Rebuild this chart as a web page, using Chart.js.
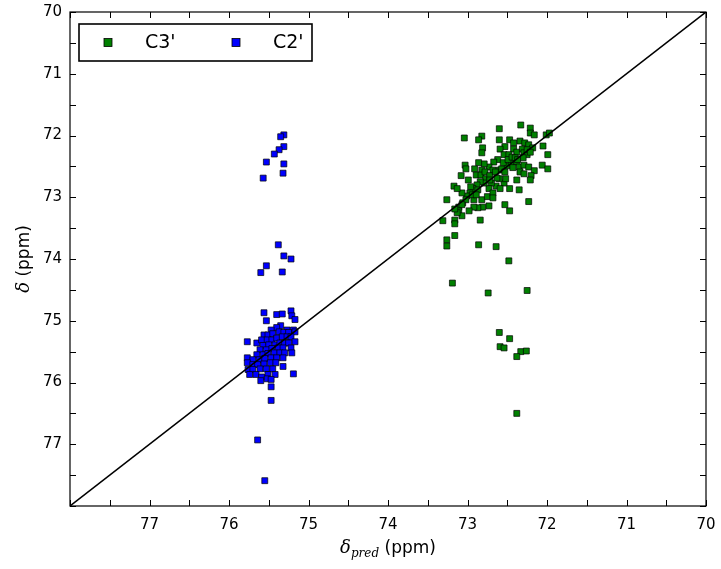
<!DOCTYPE html>
<html>
<head>
<meta charset="utf-8">
<script src="https://cdn.jsdelivr.net/npm/chart.js@4.4.0/dist/chart.umd.min.js"></script>
<style>
html,body{margin:0;padding:0;background:#fff;}
</style>
</head>
<body>
<canvas id="nmrChart" width="721" height="569"></canvas>
<script>
// axis limits (ppm) and labelled ticks
const axisRange = [70, 78];
const tickLabels = ['70','71','72','73','74','75','76','77'];
const diagLine = [78, 70];

const seriesNames = ["C3'", "C2'"];
const seriesColors = ['#008000', '#0000ff'];

// C3' : predicted shift (x) vs observed shift (y)
const c3X = [72.48,73.19,72.74,72.25,72.60,72.47,72.59,72.54,72.33,72.26,72.38,72.38,
72.60,73.04,72.33,72.21,72.21,72.16,72.82,72.86,72.60,72.47,72.42,72.34,72.28,72.01,71.97,72.53,72.59,72.81,
72.82,72.23,72.18,72.05,71.99,72.42,72.38,72.31,72.29,72.54,72.48,72.25,72.62,72.67,72.73,72.79,72.86,73.03,
73.02,72.91,72.82,72.89,73.08,72.99,72.83,72.77,72.68,72.60,72.57,72.50,72.45,72.38,72.35,72.29,72.34,72.29,
72.23,72.06,71.99,72.16,72.20,72.21,72.38,72.47,72.54,72.52,72.60,72.64,72.70,72.73,72.79,72.84,72.88,72.93,
72.96,72.97,73.01,73.07,73.17,73.13,72.92,72.82,72.75,72.68,72.68,72.59,72.35,72.23,72.53,72.47,72.73,72.81,
72.87,72.92,72.98,73.06,73.11,73.11,73.07,73.13,73.16,73.26,73.31,73.16,73.16,72.84,73.26,73.26,73.16,72.86,72.64,
72.78,72.72,72.65,72.55,72.49,72.44,72.40,72.30,72.25,72.21,72.37,72.43,72.53,72.63,72.72,72.87,72.94,73.02,73.07,72.89];
const c3Y = [74.03,74.39,74.55,74.51,75.19,75.29,75.42,75.44,75.50,75.49,75.58,76.50,
71.89,72.04,71.83,71.88,71.96,71.99,72.01,72.07,72.07,72.07,72.12,72.09,72.12,71.99,71.96,72.18,72.22,72.20,
72.28,72.15,72.20,72.17,72.31,72.22,72.27,72.22,72.28,72.31,72.31,72.31,72.39,72.43,72.51,72.46,72.44,72.48,
72.54,72.54,72.56,72.64,72.65,72.72,72.64,72.70,72.56,72.56,72.54,72.49,72.44,72.43,72.51,72.48,72.59,72.62,
72.51,72.48,72.54,72.57,72.65,72.72,72.72,72.86,72.77,72.70,72.70,72.82,72.77,72.86,72.77,72.75,72.80,72.86,
72.83,72.93,72.98,72.93,72.82,72.86,73.04,73.04,72.99,72.93,73.01,72.86,72.88,73.07,73.12,73.22,73.14,73.16,
73.17,73.16,73.22,73.09,73.16,73.22,73.30,73.25,73.19,73.04,73.38,73.37,73.43,73.37,73.69,73.79,73.62,73.77,73.80,
72.59,72.65,72.59,72.44,72.39,72.35,72.36,72.36,72.23,72.27,72.39,72.52,72.59,72.69,72.72,72.88,72.96,73.04,73.12,72.96];

// C2'
const c2X = [75.31,75.35,75.31,75.37,75.43,75.53,75.31,75.32,75.57,75.38,75.31,75.22,75.53,75.60,75.33,
75.56,75.40,75.33,75.22,75.21,75.53,75.17,75.35,75.40,75.47,75.27,75.19,75.56,75.51,75.45,75.37,75.31,75.25,75.17,
75.77,75.65,75.59,75.52,75.46,75.40,75.33,75.27,75.22,75.17,75.57,75.50,75.42,75.36,75.30,75.25,
75.61,75.53,75.46,75.38,75.32,75.22,75.65,75.57,75.51,75.43,75.36,75.30,75.21,
75.77,75.70,75.62,75.55,75.47,75.40,75.32,75.77,75.70,75.64,75.56,75.48,75.41,75.32,
75.76,75.70,75.61,75.53,75.45,75.74,75.66,75.59,75.51,75.42,75.19,75.60,75.52,75.47,75.47,75.47,75.64,75.55];
const c2Y = [71.99,72.02,72.18,72.23,72.30,72.43,72.46,72.61,72.69,73.77,73.95,74.00,74.11,74.22,74.21,
74.87,74.90,74.89,74.84,74.92,75.00,74.98,75.08,75.11,75.15,75.15,75.15,75.23,75.23,75.21,75.18,75.19,75.19,75.18,
75.34,75.36,75.31,75.31,75.31,75.28,75.26,75.26,75.26,75.34,75.40,75.39,75.39,75.36,75.36,75.36,
75.47,75.47,75.45,75.44,75.44,75.44,75.55,75.55,75.53,75.52,75.52,75.52,75.52,
75.60,75.63,75.63,75.61,75.60,75.60,75.60,75.68,75.71,75.71,75.70,75.68,75.68,75.74,
75.79,75.79,75.78,75.78,75.78,75.87,75.87,75.91,75.87,75.87,75.86,75.97,75.94,75.95,76.07,76.29,76.93,77.59];

const toPts = (xs, ys) => xs.map((v, i) => ({x: v, y: ys[i]}));

const tickFont = {family: 'DejaVu Sans', size: 15};

// matplotlib-classic look: box frame, inward ticks on every side, legend box, math-ish labels
const framePlugin = {
  id: 'frame',
  afterDatasetsDraw(chart){
    const {ctx, chartArea: a, scales: {x, y}} = chart;
    ctx.save();
    ctx.strokeStyle = '#000';
    ctx.lineWidth = 1;
    ctx.beginPath();
    x.ticks.forEach(t => {
      const px = Math.round(x.getPixelForValue(t.value)) + 0.5;
      ctx.moveTo(px, a.bottom); ctx.lineTo(px, a.bottom - 6);
      ctx.moveTo(px, a.top); ctx.lineTo(px, a.top + 6);
    });
    y.ticks.forEach(t => {
      const py = Math.round(y.getPixelForValue(t.value)) + 0.5;
      ctx.moveTo(a.left, py); ctx.lineTo(a.left + 6, py);
      ctx.moveTo(a.right, py); ctx.lineTo(a.right - 6, py);
    });
    ctx.stroke();
    ctx.lineWidth = 1.2;
    ctx.strokeRect(a.left, a.top, a.right - a.left, a.bottom - a.top);

    // legend
    const lx = a.left + 9, ly = a.top + 12, lw = 233, lh = 37;
    ctx.fillStyle = '#fff';
    ctx.fillRect(lx, ly, lw, lh);
    ctx.lineWidth = 1.6;
    ctx.strokeRect(lx, ly, lw, lh);
    ctx.font = '19px "DejaVu Sans"';
    ctx.textBaseline = 'middle';
    const cy = ly + lh / 2;
    seriesNames.forEach((name, i) => {
      const mx = lx + 29 + i * 128;
      ctx.fillStyle = seriesColors[i];
      ctx.fillRect(mx - 4, cy - 4, 8, 8);
      ctx.lineWidth = 0.8;
      ctx.strokeRect(mx - 4, cy - 4, 8, 8);
      ctx.fillStyle = '#000';
      ctx.fillText(name, mx + 37, cy + 1);
    });
    ctx.restore();
  },
  afterDraw(chart){
    const {ctx, chartArea: a} = chart;
    const parts = (withSub) => {
      const p = [{t: 'δ', f: 'italic 18px "DejaVu Serif"', dy: 0}];
      if (withSub) p.push({t: 'pred', f: 'italic 12px "DejaVu Serif"', dy: 4});
      p.push({t: ' (ppm)', f: '17px "DejaVu Sans"', dy: 0});
      return p;
    };
    const drawLabel = (p) => {
      let w = 0;
      p.forEach(s => { ctx.font = s.f; s.w = ctx.measureText(s.t).width; w += s.w; });
      let cx = -w / 2;
      p.forEach(s => { ctx.font = s.f; ctx.fillText(s.t, cx, s.dy); cx += s.w; });
    };
    ctx.save();
    ctx.fillStyle = '#000';
    ctx.textBaseline = 'alphabetic';
    ctx.translate((a.left + a.right) / 2, 553);
    drawLabel(parts(true));
    ctx.restore();
    ctx.save();
    ctx.fillStyle = '#000';
    ctx.translate(29, (a.top + a.bottom) / 2);
    ctx.rotate(-Math.PI / 2);
    drawLabel(parts(false));
    ctx.restore();
  }
};

const labelFor = v => {
  const r = Math.round(v);
  return Math.abs(v - r) < 1e-6 && tickLabels.includes(String(r)) ? String(r) : '';
};

new Chart(document.getElementById('nmrChart'), {
  data: {
    datasets: [
      {
        type: 'line',
        data: [{x: diagLine[0], y: diagLine[0]}, {x: diagLine[1], y: diagLine[1]}],
        borderColor: '#000',
        borderWidth: 1.5,
        pointRadius: 0,
        order: 0
      },
      {
        type: 'scatter',
        label: seriesNames[0],
        data: toPts(c3X, c3Y),
        pointStyle: 'rect',
        pointRadius: 4.2,
        backgroundColor: seriesColors[0],
        borderColor: '#000',
        borderWidth: 0.7,
        order: 2
      },
      {
        type: 'scatter',
        label: seriesNames[1],
        data: toPts(c2X, c2Y),
        pointStyle: 'rect',
        pointRadius: 4.2,
        backgroundColor: seriesColors[1],
        borderColor: '#000',
        borderWidth: 0.7,
        order: 1
      }
    ]
  },
  options: {
    responsive: false,
    animation: false,
    layout: {padding: {top: 12, right: 15, left: 0, bottom: 0}},
    plugins: {legend: {display: false}, tooltip: {enabled: false}},
    scales: {
      x: {
        type: 'linear',
        min: axisRange[0], max: axisRange[1],
        reverse: true,
        grid: {display: false, drawTicks: false},
        border: {display: false},
        ticks: {stepSize: 0.5, autoSkip: false, maxRotation: 0, padding: 10,
                color: '#000', font: tickFont, callback: labelFor},
        afterFit: s => { s.height = 63; s.paddingLeft = 0; s.paddingRight = 0; }
      },
      y: {
        type: 'linear',
        min: axisRange[0], max: axisRange[1],
        reverse: true,
        grid: {display: false, drawTicks: false},
        border: {display: false},
        ticks: {stepSize: 0.5, autoSkip: false, padding: 8,
                color: '#000', font: tickFont, callback: labelFor},
        afterFit: s => { s.width = 70; s.paddingTop = 0; s.paddingBottom = 0; }
      }
    }
  },
  plugins: [framePlugin]
});
</script>
</body>
</html>
